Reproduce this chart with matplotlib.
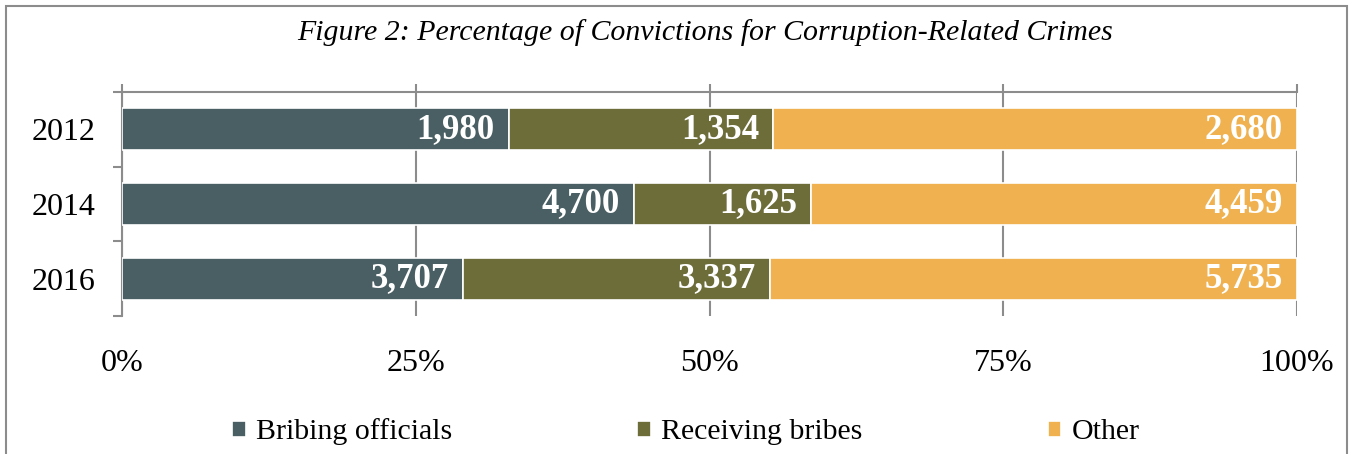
import matplotlib
matplotlib.use("Agg")
import matplotlib.pyplot as plt
from matplotlib.patches import Rectangle
import numpy as np

years = ["2012", "2014", "2016"]
series_names = ["Bribing officials", "Receiving bribes", "Other"]
bribing = [1980, 4700, 3707]
receiving = [1354, 1625, 3337]
other = [2680, 4459, 5735]
colors = ["#4A5F63", "#6D6D3A", "#F0B250"]
xtick_vals = [0, 25, 50, 75, 100]
xtick_labels = ["0%", "25%", "50%", "75%", "100%"]

W, H, DPI = 1351, 454, 100
fig = plt.figure(figsize=(W / DPI, H / DPI), dpi=DPI)
fig.patch.set_facecolor("white")

# axes placement in pixels
left, right, top, bottom = 122, 1297, 92, 316
ax = fig.add_axes([left / W, 1 - bottom / H, (right - left) / W, (bottom - top) / H])

grey = "#8C8C8C"
serif = ["Liberation Serif", "DejaVu Serif"]

data = np.array([bribing, receiving, other], dtype=float)
totals = data.sum(axis=0)
pct = data / totals * 100
ypos = np.arange(len(years))
cum = np.zeros(len(years))
for i, name in enumerate(series_names):
    bars = ax.barh(ypos, pct[i], left=cum, height=0.56, color=colors[i],
                   edgecolor="white", linewidth=1.2, label=name, zorder=3)
    for j, b in enumerate(bars):
        ax.text(cum[j] + pct[i][j] - 1.2, ypos[j], f"{int(data[i][j]):,}",
                ha="right", va="center", color="white", fontsize=25,
                fontweight="bold", family=serif, zorder=4)
    cum += pct[i]

ax.set_xlim(0, 100)
ax.set_ylim(2.5, -0.5)
ax.set_yticks(ypos)
ax.set_yticklabels(years, fontsize=23, family=serif)
ax.set_yticks([-0.5, 0.5, 1.5, 2.5], minor=True)
ax.tick_params(axis="y", which="major", length=0, pad=19)
ax.tick_params(axis="y", which="minor", length=6.5, width=1.5, color=grey, direction="out")

ax.set_xticks(xtick_vals)
ax.set_xticklabels(xtick_labels, fontsize=23, family=serif)
ax.tick_params(axis="x", which="major", top=True, bottom=False, labeltop=False,
               labelbottom=True, length=6, width=1.5, color=grey, pad=18)
ax.grid(axis="x", color=grey, linewidth=1.5, zorder=1)
ax.set_axisbelow(True)

for s in ["bottom", "right"]:
    ax.spines[s].set_visible(False)
for s in ["top", "left"]:
    ax.spines[s].set_color(grey)
    ax.spines[s].set_linewidth(1.5)

fig.text(0.5 * (293 + 1118) / W, 1 - 33 / H,
         "Figure 2: Percentage of Convictions for Corruption-Related Crimes",
         ha="center", va="center", fontsize=21.5, style="italic", family=serif)

leg = fig.legend(loc="center", bbox_to_anchor=(0.5 * (232 + 1140) / W, 1 - 432 / H),
                 ncol=3, frameon=False, prop={"family": serif, "size": 21.5},
                 handlelength=0.45, handleheight=0.45, handletextpad=0.35,
                 columnspacing=6.2)

fig.patches.append(Rectangle((6 / W, -0.1), (1347 - 6) / W, 1.1 - 6 / H,
                             transform=fig.transFigure, fill=False,
                             edgecolor=grey, linewidth=1.5))

fig.savefig("out.png", dpi=DPI)
